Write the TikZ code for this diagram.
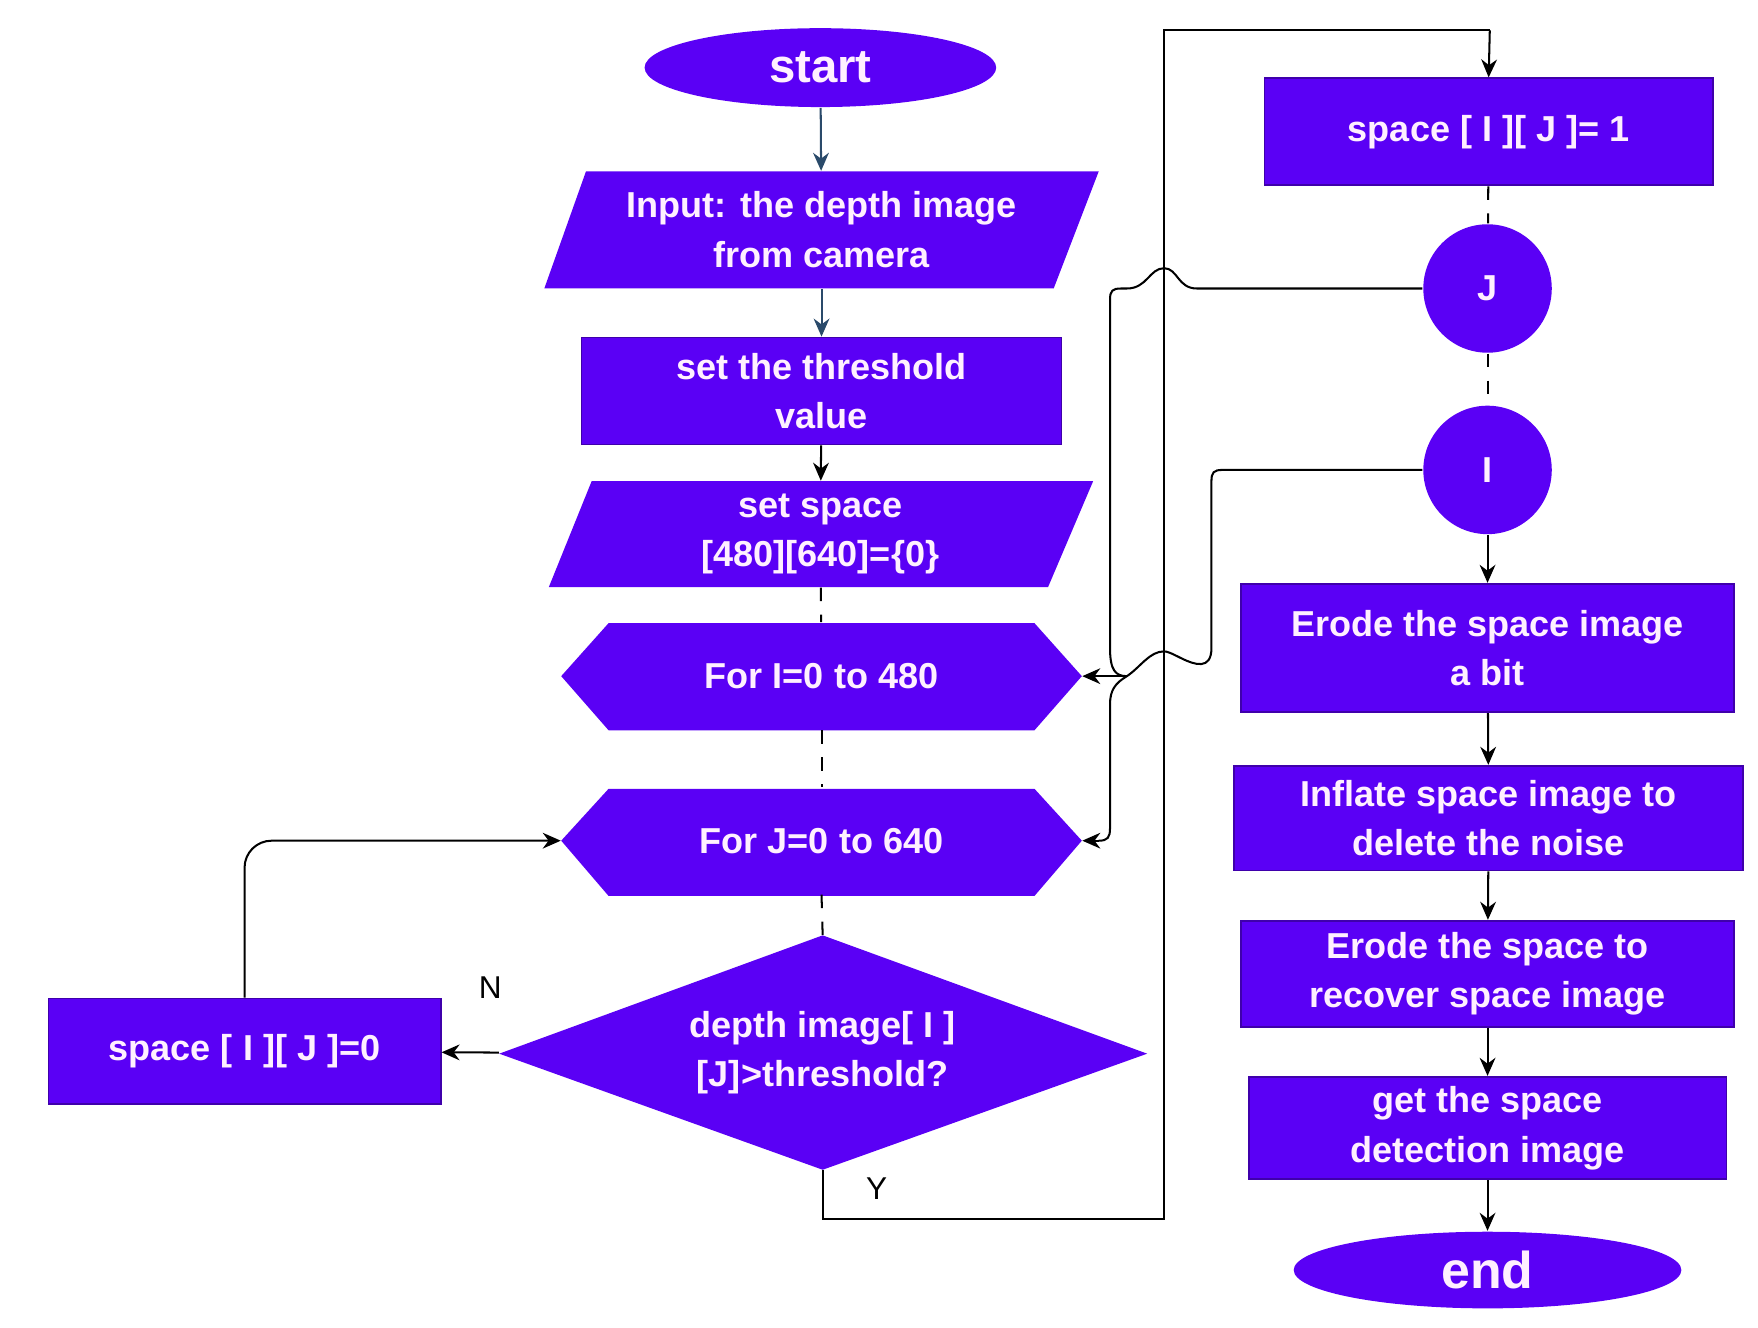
\documentclass[tikz,border=0pt]{standalone}
\usepackage{fontspec}
\setmainfont{Liberation Sans}
\usetikzlibrary{shapes.geometric,arrows.meta}
\definecolor{vio}{HTML}{5A00F5}
\definecolor{txt}{HTML}{FFF0FF}
\definecolor{ar}{HTML}{2A4A6A}
\begin{document}
\begin{tikzpicture}[x=0.5pt,y=-0.5pt,
  box/.style={draw=none,inner sep=0pt,align=center,text=txt,font=\fontsize{16}{22}\selectfont\bfseries},
  sh/.style={fill=vio,draw=vio!70!black,line width=0.8pt},
  ln/.style={line width=0.9pt,black},
  arr/.style={ln,-{Stealth[length=8pt,width=7pt]}},
  dsh/.style={ln,dash pattern=on 6pt off 6pt}]
\useasboundingbox (0,0) rectangle (1560,1178);
% shapes
\node[ellipse,sh,box,minimum width=156pt,minimum height=35pt,font=\fontsize{21}{24}\selectfont\bfseries] (start) at (728,60) {start};
\fill[vio] (520,152) -- (975,152) -- (935,256) -- (483,256) -- cycle;
\node[box,minimum width=225pt,minimum height=52pt] (inp) at (729,204) {Input: the depth image\\from camera};
\node[box,sh,minimum width=213pt,minimum height=47.5pt] (thr) at (729,347) {set the threshold\\value};
\fill[vio] (525,427) -- (970,427) -- (930,521) -- (487,521) -- cycle;
\node[box,minimum width=222pt,minimum height=47pt] (ss) at (728,474) {set space\\{[480][640]=\{0\}}};
\fill[vio] (498,600) -- (540,553) -- (918,553) -- (960,600) -- (918,648) -- (540,648) -- cycle;
\node[box,minimum width=231pt,minimum height=47.5pt] (fi) at (729,600) {For I=0 to 480};
\fill[vio] (498,746) -- (540,700) -- (918,700) -- (960,746) -- (918,795) -- (540,795) -- cycle;
\node[box,minimum width=231pt,minimum height=47.5pt] (fj) at (729,746) {For J=0 to 640};
\fill[vio] (443,935) -- (730,830) -- (1018,935) -- (730,1038) -- cycle;
\node[box,minimum width=287pt,minimum height=104pt] (dia) at (730,934) {depth image[ I ]\\{[J]>threshold?}};
\node[box,sh,minimum width=174pt,minimum height=47pt] (s0) at (217,933) {space [ I ][ J ]=0};
\node[box,sh,minimum width=199pt,minimum height=47.5pt] (s1) at (1321,117) {space [ I ][ J ]= 1};
\node[circle,sh,box,minimum size=57pt] (J) at (1320,256) {J};
\node[circle,sh,box,minimum size=57pt] (I) at (1320,417) {I};
\node[box,sh,minimum width=219pt,minimum height=57pt] (e1) at (1320,575) {Erode the space image\\a bit};
\node[box,sh,minimum width=226pt,minimum height=46.5pt] (inf) at (1321,726) {Inflate space image to\\delete the noise};
\node[box,sh,minimum width=219pt,minimum height=47pt] (e2) at (1320,864) {Erode the space to\\recover space image};
\node[box,sh,minimum width=212pt,minimum height=45.5pt] (get) at (1320,1001) {get the space\\detection image};
\node[ellipse,sh,box,minimum width=172pt,minimum height=34pt,font=\fontsize{23}{26}\selectfont\bfseries] (end) at (1320,1127) {end};
\node[font=\fontsize{14}{16}\selectfont\rmfamily] (N) at (435,876) {N};
\node[font=\fontsize{14}{16}\selectfont\rmfamily] (Y) at (778,1055) {Y};
% connectors
\draw[arr,ar] (start) -- (inp);
\draw[arr,ar] (inp) -- (thr);
\draw[arr] (thr) -- (ss);
\draw[dsh] (ss) -- (fi);
\draw[dsh] (fi) -- (fj);
\draw[dsh] (fj.south) -- (dia.north);
\draw[arr] (dia.west) -- (s0);
\draw[arr,rounded corners=12pt] (s0.north) |- (fj.west);
\coordinate (y1) at (730,1082);
\coordinate (y2) at (1033,1082);
\coordinate (y3) at (1033,27);
\coordinate (y4) at (1322,27);
\draw[ln] (dia.south) -- (y1) -- (y2) -- (y3) -- (y4);
\draw[arr] (y4) -- (s1.north);
\draw[dsh] (s1) -- (J);
\draw[dsh] (J) -- (I);
\draw[arr] (I) -- (e1);
\draw[arr] (e1) -- (inf);
\draw[arr] (inf) -- (e2);
\draw[arr] (e2) -- (get);
\draw[arr] (get) -- (end);
% J -> For I with hop
\coordinate (j1) at (1062,256);
\coordinate (j2) at (985,256);
\coordinate (j3) at (985,575);
\draw[ln] (J.west) -- (j1) .. controls (1045,256) and (1045,238) .. (1033,238)
  .. controls (1020,238) and (1018,256) .. (1000,256) -- (995,256)
  .. controls (987,256) and (985,258) .. (985,266) -- (j3)
  .. controls (985,595) and (990,600) .. (1000,600);
\draw[arr] (1000,600) -- (fi.east);
% I -> For J with hop
\coordinate (i1) at (1085,417);
\draw[ln] (I.west) -- (i1) .. controls (1077,417) and (1075,419) .. (1075,427) -- (1075,575)
  .. controls (1075,595) and (1060,590) .. (1048,584)
  .. controls (1040,580) and (1036,578) .. (1033,578)
  .. controls (1020,578) and (1012,592) .. (1000,600)
  .. controls (990,606) and (985,612) .. (985,625) -- (985,735)
  .. controls (985,743) and (983,746) .. (975,746);
\draw[arr] (975,746) -- (fj.east);
\end{tikzpicture}
\end{document}
